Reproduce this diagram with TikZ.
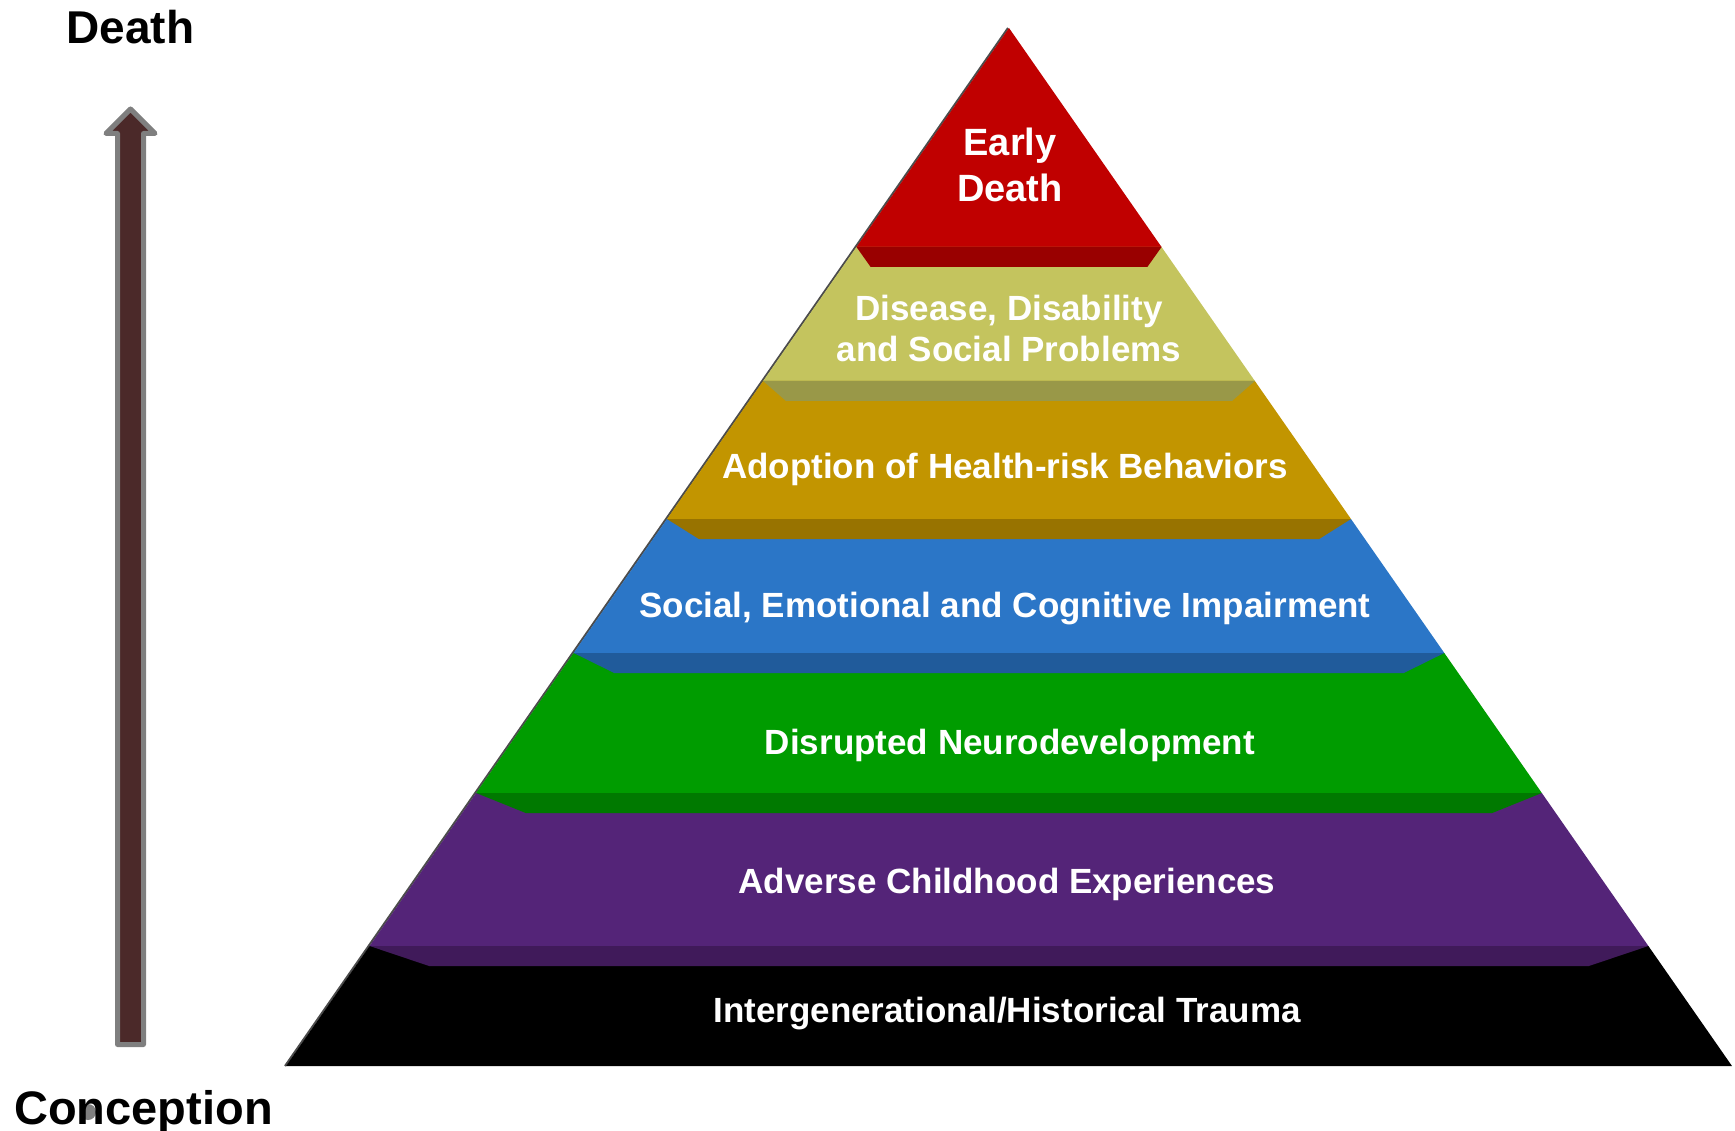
\documentclass[tikz,border=0pt]{standalone}
\usepackage{fontspec}
\setmainfont{Liberation Sans}
\usepackage{tikz}
\usetikzlibrary{calc}
\definecolor{deathface}{RGB}{192,0,0}
\definecolor{deathband}{RGB}{153,0,0}
\definecolor{diseaseface}{RGB}{196,196,94}
\definecolor{diseaseband}{RGB}{153,152,72}
\definecolor{riskface}{RGB}{194,149,0}
\definecolor{riskband}{RGB}{152,115,0}
\definecolor{impairface}{RGB}{43,118,199}
\definecolor{impairband}{RGB}{32,91,155}
\definecolor{neuroface}{RGB}{0,156,0}
\definecolor{neuroband}{RGB}{0,121,0}
\definecolor{aceface}{RGB}{84,36,120}
\definecolor{aceband}{RGB}{64,26,90}
\definecolor{arrowfill}{RGB}{75,41,41}
\definecolor{arrowrim}{RGB}{127,127,127}

\begin{document}
\begin{tikzpicture}[x=1pt,y=-1pt,
  layerlabel/.style={text=white, inner sep=0pt, anchor=base, align=center,
    font=\bfseries\fontsize{35}{41}\selectfont},
  axislabel/.style={text=black, inner sep=0pt, anchor=base,
    font=\bfseries\fontsize{47}{56}\selectfont}]
\useasboundingbox (0,0) rectangle (1735,1131);
% shadow along the left edge
\draw[black!70, line width=2pt] (1008,28) -- (285,1066);
% faces of the layers
\foreach \ya/\yb/\col in {28/247/deathface, 247/381/diseaseface, 381/519/riskface,
  519/653/impairface, 653/793/neuroface, 793/946/aceface, 946/1066/black}
\fill[\col] ({1009-0.6965*(\ya-28)},\ya) -- ({1009+0.6965*(\ya-28)},\ya)
  -- ({1009+0.6965*(\yb-28)},\yb) -- ({1009-0.6965*(\yb-28)},\yb) -- cycle;
% bevelled lower bands
\foreach \yb/\col in {247/deathband, 381/diseaseband, 519/riskband,
  653/impairband, 793/neuroband, 946/aceband}
\fill[\col] ({1009-0.6965*(\yb-28)},\yb) -- ({1009+0.6965*(\yb-28)},\yb)
  -- ({1009+0.907*0.6965*(\yb-28)},\yb+20) -- ({1009-0.907*0.6965*(\yb-28)},\yb+20) -- cycle;
% labels of the layers (base = last line)
\node[layerlabel, font=\bfseries\fontsize{38}{46}\selectfont] (early) at (1010,202) {Early\\Death};
\node[layerlabel] (disease) at (1009,362) {Disease, Disability\\and Social Problems};
\node[layerlabel] (risk) at (1005,478) {Adoption of Health-risk Behaviors};
\node[layerlabel] (impair) at (1005,617) {Social, Emotional and Cognitive Impairment};
\node[layerlabel] (neuro) at (1010,754) {Disrupted Neurodevelopment};
\node[layerlabel] (ace) at (1007,893) {Adverse Childhood Experiences};
\node[layerlabel] (trauma) at (1007,1022) {Intergenerational/Historical Trauma};
% time arrow
\filldraw[fill=arrowfill, draw=arrowrim, line width=5pt, line join=round]
  (130.5,109) -- (155,133.5) -- (143.5,133.5) -- (143.5,1044.5)
  -- (117.5,1044.5) -- (117.5,133.5) -- (106,133.5) -- cycle;
\fill[arrowrim] (88,1112) circle (8);
\node[axislabel, font=\bfseries\fontsize{46}{55}\selectfont] (death) at (130.5,44) {Death};
\node[axislabel] (conception) at (143.5,1124) {Conception};
\end{tikzpicture}
\end{document}
